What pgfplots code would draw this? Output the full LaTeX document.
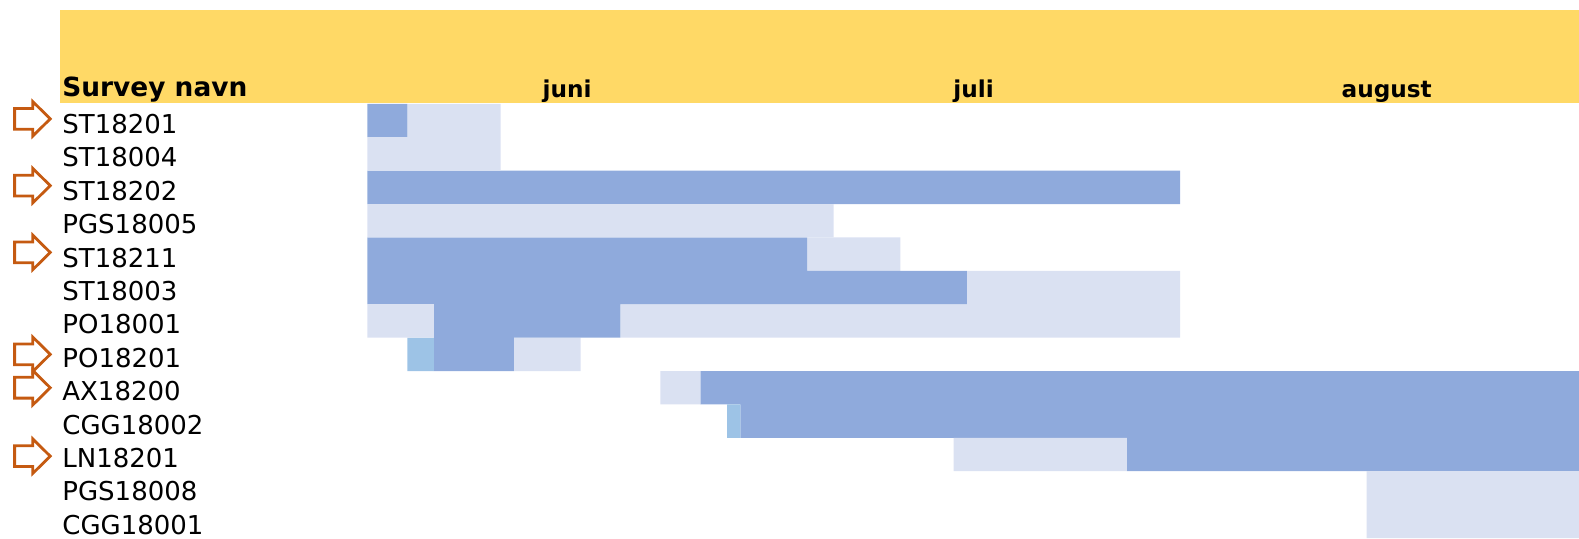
\documentclass[border=0pt]{standalone}
\usepackage{fontspec}
\setmainfont{DejaVu Sans}
\usepackage{pgfplots}
\pgfplotsset{compat=1.18}
\usepackage{pgfplotstable}

\definecolor{dkblue}{HTML}{8FAADC}
\definecolor{ltblue}{HTML}{DAE1F2}
\definecolor{mdblue}{HTML}{9DC3E6}
\definecolor{hdr}{HTML}{FFD966}
\definecolor{arr}{HTML}{C55A11}

\pgfdeclareplotmark{outarrow}{%
  \pgfpathmoveto{\pgfqpoint{-8.9pt}{-5.2pt}}%
  \pgfpathlineto{\pgfqpoint{0.2pt}{-5.2pt}}%
  \pgfpathlineto{\pgfqpoint{0.2pt}{-8.6pt}}%
  \pgfpathlineto{\pgfqpoint{8.9pt}{0pt}}%
  \pgfpathlineto{\pgfqpoint{0.2pt}{8.6pt}}%
  \pgfpathlineto{\pgfqpoint{0.2pt}{5.2pt}}%
  \pgfpathlineto{\pgfqpoint{-8.9pt}{5.2pt}}%
  \pgfpathclose
  \pgfusepathqstroke}

% days from 1 June; segments stacked left to right: gap, light, mid, dark, light
\pgfplotstableread{
row gap L1 M D L2
1 0 0 0 3 7
2 0 10 0 0 0
3 0 0 0 61 0
4 0 35 0 0 0
5 0 0 0 33 7
6 0 0 0 45 16
7 0 5 0 14 42
8 3 0 2 6 5
9 22 3 0 66 0
10 27 0 1 63 0
11 44 13 0 34 0
12 75 16 0 0 0
13 75 16 0 0 0
}\gantt

\pgfplotstableread{
x y
-25.13 0.95
-25.13 2.95
-25.13 4.95
-25.13 8.0
-25.13 9.0
-25.13 11.05
}\arrowtab

\begin{document}
\begin{tikzpicture}
\path[use as bounding box] (-183.65pt,0pt) rectangle (605.85pt,269pt);
\begin{axis}[
  at={(0pt,0pt)}, anchor=south west,
  scale only axis, width=605.85pt, height=217.1pt,
  xmin=0, xmax=90.93, ymin=0.5, ymax=13.5, y dir=reverse,
  xbar stacked, bar width=1,
  clip=false,
  axis line style={draw=none},
  major tick length=0pt,
  xtick=\empty,
  ytick={1,...,13},
  yticklabels={ST18201,ST18004,ST18202,PGS18005,ST18211,ST18003,PO18001,PO18201,AX18200,CGG18002,LN18201,PGS18008,CGG18001},
  yticklabel style={anchor=base west, inner sep=0pt, xshift=-152.65pt, yshift=-6.5pt, font=\fontsize{13}{15}\selectfont},
]
\fill[hdr] (axis cs:-23.06,-2.308) rectangle (axis cs:90.93,0.485);
\addplot[draw=none, fill=none] table[x=gap, y=row] {\gantt};
\addplot[draw=none, fill=ltblue] table[x=L1, y=row] {\gantt};
\addplot[draw=none, fill=mdblue] table[x=M, y=row] {\gantt};
\addplot[draw=none, fill=dkblue] table[x=D, y=row] {\gantt};
\addplot[draw=none, fill=ltblue] table[x=L2, y=row] {\gantt};
\end{axis}
\begin{axis}[
  at={(0pt,0pt)}, anchor=south west,
  scale only axis, width=605.85pt, height=217.1pt,
  xmin=0, xmax=90.93, ymin=0.5, ymax=13.5, y dir=reverse,
  hide axis, clip=false,
]
\addplot[only marks, mark=outarrow, mark options={draw=arr, line width=1.4pt}] table[x=x, y=y] {\arrowtab};
\node[anchor=base west, inner sep=0pt, font=\fontsize{13.2}{15}\selectfont\bfseries] at (axis cs:-22.91,0.296) {Survey navn};
\node[anchor=base, inner sep=0pt, font=\fontsize{11.6}{13}\selectfont\bfseries] at (axis cs:15,0.311) {juni};
\node[anchor=base, inner sep=0pt, font=\fontsize{11.6}{13}\selectfont\bfseries] at (axis cs:45.5,0.311) {juli};
\node[anchor=base, inner sep=0pt, font=\fontsize{11.6}{13}\selectfont\bfseries] at (axis cs:76.5,0.311) {august};
\end{axis}
\end{tikzpicture}
\end{document}
